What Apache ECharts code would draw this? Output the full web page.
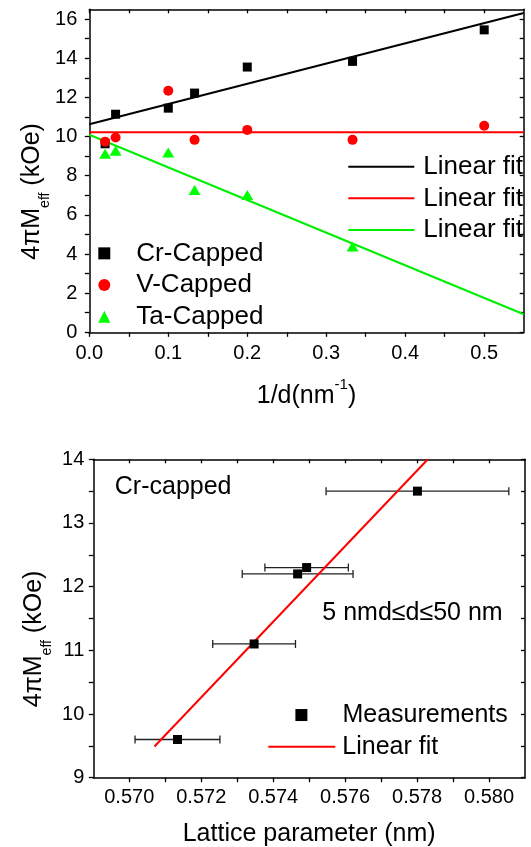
<!DOCTYPE html>
<html><head><meta charset="utf-8">
<script src="https://cdn.jsdelivr.net/npm/echarts@6/dist/echarts.min.js"></script>
<style>html,body{margin:0;padding:0;background:#fff}#c{width:531px;height:847px}</style>
</head><body><div id="c"></div>
<script>
// ---------- Top panel: 4πM_eff vs 1/d ----------
const invD      = [0.02, 0.0333, 0.1, 0.1333, 0.2, 0.3333, 0.5];
const crCapped  = [9.63, 11.14, 11.45, 12.22, 13.55, 13.84, 15.45];
const vCapped   = [9.74, 9.95, 12.34, 9.83, 10.34, 9.83, 10.55];
const invDTa    = [0.02, 0.0333, 0.1, 0.1333, 0.2, 0.3333];
const taCapped  = [9.12, 9.28, 9.18, 7.27, 7.02, 4.38];
const fitX      = [0, 0.55];
const crFit     = [10.63, 16.31];
const vFit      = [10.22, 10.22];
const taFit     = [10.09, 0.92];
const xTicksTop  = [0,0.05,0.1,0.15,0.2,0.25,0.3,0.35,0.4,0.45,0.5];
const xLabelsTop = [0,0.1,0.2,0.3,0.4,0.5];
const yTicksTop  = [0,1,2,3,4,5,6,7,8,9,10,11,12,13,14,15,16];
const yLabelsTop = [0,2,4,6,8,10,12,14,16];

// ---------- Bottom panel: 4πM_eff vs lattice parameter ----------
const lattice    = [0.57134, 0.57347, 0.57468, 0.57493, 0.57801];
const latticeErr = [0.00118, 0.00115, 0.00154, 0.00116, 0.00254];
const meff       = [9.6, 11.1, 12.2, 12.3, 13.5];
const latFitX    = [0.5707, 0.5783];
const latFitY    = [9.49, 14.0];
const xTicksBot  = [0.570,0.571,0.572,0.573,0.574,0.575,0.576,0.577,0.578,0.579,0.580];
const xLabelsBot = [0.570,0.572,0.574,0.576,0.578,0.580];
const yTicksBot  = [9,9.5,10,10.5,11,11.5,12,12.5,13,13.5,14];
const yLabelsBot = [9,10,11,12,13,14];

const FF = "'Liberation Sans', Arial, Helvetica, sans-serif";
const AX = {color:'#000', width:1.5};
const zip = (a,b) => a.map((v,i)=>[v,b[i]]);

function mainAxis(pos, grid, min, max, ticks, labels, fmt, margin, extra) {
  return Object.assign({
    type:'value', gridIndex:grid, position:pos, min:min, max:max,
    axisLine:{show:true, onZero:false, lineStyle:AX},
    axisTick:{show:true, inside:false, length:4.5, customValues:ticks, lineStyle:{color:'#000', width:1.3}},
    axisLabel:{show:true, customValues:labels, formatter:fmt, fontSize:20, fontFamily:FF, color:'#000', margin:margin},
    splitLine:{show:false}
  }, extra||{});
}
function mirrorAxis(pos, grid, min, max, ticks) {
  return {
    type:'value', gridIndex:grid, position:pos, min:min, max:max,
    axisLine:{show:true, onZero:false, lineStyle:AX},
    axisTick:{show:true, inside:true, length:4, customValues:ticks, lineStyle:{color:'#000', width:1.3}},
    axisLabel:{show:false}, splitLine:{show:false}
  };
}
const legendText = (size, padLeft) => ({fontSize:size, lineHeight:31.7, fontFamily:FF, color:'#000', padding:[0,0,0,padLeft]});

const chart = echarts.init(document.getElementById('c'), null, {renderer:'canvas'});
chart.setOption({
  animation:false,
  backgroundColor:'#fff',
  grid:[
    {left:89.3, top:9.3, width:434.4, height:323, outerBoundsMode:'none'},
    {left:93.3, top:459.3, width:431.7, height:318.4, outerBoundsMode:'none'}
  ],
  xAxis:[
    mainAxis('bottom',0,0,0.55,xTicksTop,xLabelsTop,v=>Number(v).toFixed(1),11,{
      name:'{a|1/d(nm}{s|-1}{a|)}', nameLocation:'middle', nameGap:45.5,
      nameTextStyle:{rich:{a:{fontSize:25,lineHeight:36,fontFamily:FF,color:'#000'},
                           s:{fontSize:15,lineHeight:15,verticalAlign:'top',fontFamily:FF,color:'#000'}}}
    }),
    mirrorAxis('top',0,0,0.55,xTicksTop),
    mainAxis('bottom',1,0.569,0.581,xTicksBot,xLabelsBot,v=>Number(v).toFixed(3),10,{
      name:'Lattice parameter (nm)', nameLocation:'middle', nameGap:44,
      nameTextStyle:{fontSize:25, fontFamily:FF, color:'#000', lineHeight:25}
    }),
    mirrorAxis('top',1,0.569,0.581,xTicksBot)
  ],
  yAxis:[
    mainAxis('left',0,0,16.5,yTicksTop,yLabelsTop,v=>String(Math.round(v)),12),
    mirrorAxis('right',0,0,16.5,yTicksTop),
    mainAxis('left',1,9,14,yTicksBot,yLabelsBot,v=>String(Math.round(v)),9),
    mirrorAxis('right',1,9,14,yTicksBot)
  ],
  legend:[
    {data:['Cr-Capped','V-Capped','Ta-Capped'], orient:'vertical', left:98.3, top:237.5,
     itemWidth:12, itemHeight:12, itemGap:0, padding:0, selectedMode:false,
     textStyle:legendText(26, 21)},
    {data:[{name:'Linear fit (Cr)',icon:'rect'},{name:'Linear fit (V)',icon:'rect'},{name:'Linear fit (Ta)',icon:'rect'}],
     formatter:()=>'Linear fit',
     orient:'vertical', left:348.3, top:150.8, itemWidth:66, itemHeight:2, itemGap:0, padding:0, selectedMode:false,
     textStyle:legendText(26, 4)},
    {data:[{name:'Measurements',icon:'rect'}], orient:'vertical', left:295.4, top:699.2,
     itemWidth:12, itemHeight:12, itemGap:0, padding:0, selectedMode:false,
     textStyle:legendText(25, 30)},
    {data:[{name:'Linear fit',icon:'rect'}], orient:'vertical', left:268.3, top:730.9,
     itemWidth:67, itemHeight:2, itemGap:0, padding:0, selectedMode:false,
     textStyle:legendText(25, 2)}
  ],
  graphic:[
    {type:'text', x:31.7, y:191.5, rotation:Math.PI/2, silent:true,
     style:{text:'{a|4πM}{s|eff}{a| (kOe)}', align:'center', verticalAlign:'middle',
       rich:{a:{fontSize:25, lineHeight:40, fontFamily:FF, fill:'#000'},
             s:{fontSize:14, lineHeight:14, verticalAlign:'bottom', fontFamily:FF, fill:'#000'}}}},
    {type:'text', x:34, y:639, rotation:Math.PI/2, silent:true,
     style:{text:'{a|4πM}{s|eff}{a| (kOe)}', align:'center', verticalAlign:'middle',
       rich:{a:{fontSize:25, lineHeight:40, fontFamily:FF, fill:'#000'},
             s:{fontSize:14, lineHeight:14, verticalAlign:'bottom', fontFamily:FF, fill:'#000'}}}},
    {type:'text', x:114.8, y:487.5, silent:true,
     style:{text:'Cr-capped', fontSize:25, fontFamily:FF, fill:'#000', align:'left', verticalAlign:'middle'}},
    {type:'text', x:322.3, y:613.3, silent:true,
     style:{text:'5 nmd≤d≤50 nm', fontSize:25, fontFamily:FF, fill:'#000', align:'left', verticalAlign:'middle'}}
  ],
  series:[
    {name:'Linear fit (Cr)', type:'line', xAxisIndex:0, yAxisIndex:0, data:zip(fitX,crFit), symbol:'none',
     lineStyle:{color:'#000', width:2}, itemStyle:{color:'#000'}, z:2},
    {name:'Linear fit (V)', type:'line', xAxisIndex:0, yAxisIndex:0, data:zip(fitX,vFit), symbol:'none',
     lineStyle:{color:'#ff0000', width:2}, itemStyle:{color:'#ff0000'}, z:2},
    {name:'Linear fit (Ta)', type:'line', xAxisIndex:0, yAxisIndex:0, data:zip(fitX,taFit), symbol:'none',
     lineStyle:{color:'#00ee00', width:2}, itemStyle:{color:'#00ee00'}, z:2},
    {name:'Cr-Capped', type:'scatter', xAxisIndex:0, yAxisIndex:0, data:zip(invD,crCapped), symbol:'rect',
     symbolSize:9, itemStyle:{color:'#000', opacity:1}, z:3},
    {name:'V-Capped', type:'scatter', xAxisIndex:0, yAxisIndex:0, data:zip(invD,vCapped), symbol:'circle',
     symbolSize:10, itemStyle:{color:'#ff0000', opacity:1}, z:3},
    {name:'Ta-Capped', type:'scatter', xAxisIndex:0, yAxisIndex:0, data:zip(invDTa,taCapped), symbol:'triangle',
     symbolSize:[12,10], itemStyle:{color:'#00ff00', opacity:1}, z:3},
    {name:'x error', type:'custom', xAxisIndex:2, yAxisIndex:2, silent:true, z:2,
     data:lattice.map((v,i)=>[v, meff[i], latticeErr[i]]),
     encode:{x:0, y:1},
     renderItem:function(params, api){
       const x=api.value(0), y=api.value(1), e=api.value(2);
       const p0=api.coord([x-e,y]), p1=api.coord([x+e,y]);
       const c=4, st={stroke:'#222', lineWidth:1.3};
       return {type:'group', children:[
         {type:'line', shape:{x1:p0[0],y1:p0[1],x2:p1[0],y2:p1[1]}, style:st},
         {type:'line', shape:{x1:p0[0],y1:p0[1]-c,x2:p0[0],y2:p0[1]+c}, style:st},
         {type:'line', shape:{x1:p1[0],y1:p1[1]-c,x2:p1[0],y2:p1[1]+c}, style:st}
       ]};
     }},
    {name:'Linear fit', type:'line', xAxisIndex:2, yAxisIndex:2, data:zip(latFitX,latFitY), symbol:'none',
     lineStyle:{color:'#ff0000', width:2}, itemStyle:{color:'#ff0000'}, z:3},
    {name:'Measurements', type:'scatter', xAxisIndex:2, yAxisIndex:2, data:zip(lattice,meff), symbol:'rect',
     symbolSize:9, itemStyle:{color:'#000', opacity:1}, z:4}
  ]
});
</script>
</body></html>
